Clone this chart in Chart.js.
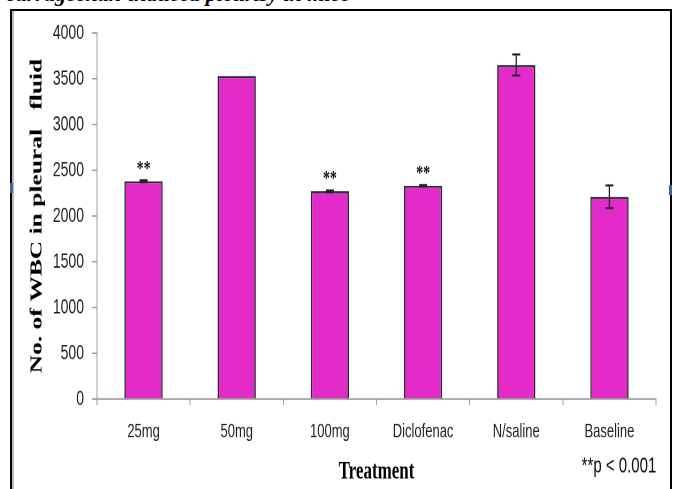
<!DOCTYPE html>
<html>
<head>
<meta charset="utf-8">
<script src="https://cdn.jsdelivr.net/npm/chart.js@4/dist/chart.umd.min.js"></script>
<style>
  html, body { margin: 0; padding: 0; background: #fff; overflow: hidden; }
  #wrap { position: relative; width: 675px; height: 489px; overflow: hidden; }
  #frame { position: absolute; left: 10px; top: 9px; width: 662px; height: 500px;
           border: 2px solid #000; box-sizing: border-box; box-shadow: inset 2px 0 0 #bbb; }
  #cap { position: absolute; left: 6px; top: -19px; white-space: nowrap;
         font: italic bold 22px 'Liberation Serif', serif; color: #000; }
  .mark { position: absolute; width: 3px; height: 10px; background: #3d68a8; }
  /* the source figure is stretched vertically, so the chart is too */
  #chartBox { position: absolute; left: 0; top: 0; width: 675px; height: 326px;
              transform: scaleY(1.5); transform-origin: 0 0; }
</style>
</head>
<body>
<div id="wrap">
  <div id="cap">carrageenan-induced pleurisy in mice</div>
  <div id="frame"></div>
  <div class="mark" style="left:10px;top:183px"></div>
  <div class="mark" style="left:669px;top:185px"></div>
  <div id="chartBox"><canvas id="grafico"></canvas></div>
</div>
<script>
// valores
var labels = ['25mg', '50mg', '100mg', 'Diclofenac', 'N/saline', 'Baseline'];
var wbcMean = [2380, 3530, 2270, 2330, 3650, 2210];
var wbcError = [10, 0, 10, 10, 115, 125];
var sigMarks = ['**', '', '**', '**', '', ''];
var yTicks = [0, 500, 1000, 1500, 2000, 2500, 3000, 3500, 4000];

var sans = "'Liberation Sans', Arial, sans-serif";
var serif = "'Liberation Serif', 'Times New Roman', serif";

// barras de error
var errorBars = {
  id: 'errorBars',
  afterDatasetsDraw: function (chart) {
    var ctx = chart.ctx;
    var y = chart.scales.y;
    var meta = chart.getDatasetMeta(0);
    ctx.save();
    ctx.strokeStyle = '#222';
    ctx.lineWidth = 1.3;
    meta.data.forEach(function (bar, i) {
      var e = wbcError[i];
      if (!e) return;
      var top = y.getPixelForValue(wbcMean[i] + e);
      var bot = y.getPixelForValue(wbcMean[i] - e);
      ctx.beginPath();
      ctx.moveTo(bar.x, top); ctx.lineTo(bar.x, bot);
      ctx.moveTo(bar.x - 4, top); ctx.lineTo(bar.x + 4, top);
      ctx.moveTo(bar.x - 4, bot); ctx.lineTo(bar.x + 4, bot);
      ctx.stroke();
    });
    ctx.restore();
  }
};

// asteriscos y nota de significancia
var sigLabels = {
  id: 'sigLabels',
  afterDraw: function (chart) {
    var ctx = chart.ctx;
    var meta = chart.getDatasetMeta(0);
    ctx.save();
    ctx.fillStyle = '#111';
    ctx.textAlign = 'center';
    ctx.textBaseline = 'middle';
    ctx.font = 'bold 14px ' + serif;
    meta.data.forEach(function (bar, i) {
      if (sigMarks[i]) ctx.fillText(sigMarks[i], bar.x, bar.y - 8);
    });
    ctx.font = '15px ' + sans;
    ctx.fillText('**p < 0.001', 619, 311);
    ctx.restore();
  }
};

var ctx = document.getElementById('grafico').getContext('2d');
var chart = new Chart(ctx, {
  type: 'bar',
  data: {
    labels: labels,
    datasets: [{
      data: wbcMean,
      backgroundColor: '#e22bc9',
      borderColor: '#2b2b2b',
      borderWidth: 1.4,
      borderSkipped: 'start',
      barPercentage: 0.41,
      categoryPercentage: 1
    }]
  },
  options: {
    responsive: true,
    maintainAspectRatio: false,
    animation: false,
    devicePixelRatio: 2,
    layout: { padding: { left: 20, top: 22, right: 19, bottom: 0 } },
    plugins: { legend: { display: false }, tooltip: { enabled: false } },
    scales: {
      x: {
        grid: { display: true, drawOnChartArea: false, tickLength: 4, color: '#a0a0a0', offset: true },
        border: { color: '#a0a0a0', width: 1 },
        ticks: { color: '#222', padding: 10, font: { family: sans, size: 13 } },
        title: { display: true, text: 'Treatment', color: '#000',
                 font: { family: serif, size: 17, weight: 'bold' }, padding: { top: 2, bottom: 1 } },
        afterFit: function (scale) { scale.height = 60; }
      },
      y: {
        min: 0, max: 4000,
        afterBuildTicks: function (scale) { scale.ticks = yTicks.map(function (v) { return { value: v }; }); },
        grid: { display: true, drawOnChartArea: false, tickLength: 5, color: '#a0a0a0' },
        border: { color: '#a0a0a0', width: 1 },
        ticks: { color: '#222', padding: 8, font: { family: sans, size: 14 },
                 callback: function (v) { return String(v); } },
        title: { display: true, text: 'No. of WBC in pleural   fluid', color: '#000',
                 font: { family: serif, size: 17, weight: 'bold' }, padding: { top: 7, bottom: 0 } },
        afterFit: function (scale) { scale.width = 77; }
      }
    }
  },
  plugins: [errorBars, sigLabels]
});
</script>
</body>
</html>
